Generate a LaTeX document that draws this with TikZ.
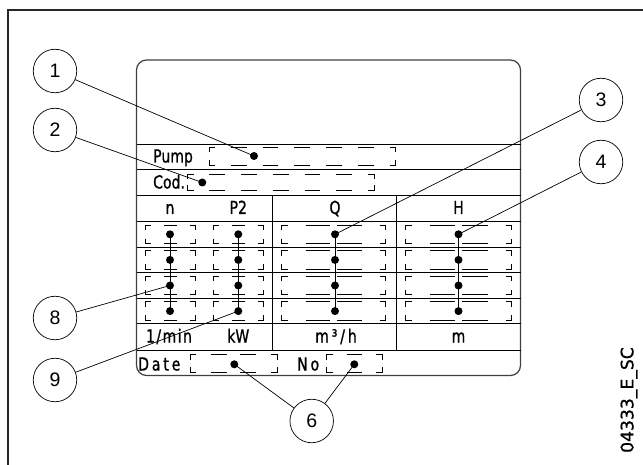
\documentclass[tikz,border=0pt]{standalone}
\usepackage{fontspec}
\setmainfont{Liberation Sans}
\newfontfamily\techfont[FakeStretch=0.78,FakeBold=1]{DejaVu Sans}
\newfontfamily\techwide[FakeStretch=0.78,FakeBold=1,LetterSpace=16]{DejaVu Sans}
\newfontfamily\techsemi[FakeStretch=0.78,FakeBold=1,LetterSpace=8]{DejaVu Sans}
\newfontfamily\codefont[FakeBold=1]{DejaVu Sans}
\tikzset{
  frame/.style={line width=2pt, black!85},
  panel/.style={line width=1.2pt, black!75, rounded corners=10pt},
  rule/.style={line width=0.9pt},
  leader/.style={line width=0.7pt},
  stem/.style={line width=1pt},
  callout/.style={circle, draw, line width=0.7pt, minimum size=43.5pt, inner sep=0pt, font=\fontsize{19.5}{19.5}\selectfont},
  dot/.style={circle, fill, inner sep=0pt, minimum size=8pt},
  lbl/.style={font=\techfont\fontsize{18}{18}\selectfont, inner sep=0pt},
  lblw/.style={font=\techwide\fontsize{18}{18}\selectfont, inner sep=0pt},
  lbls/.style={font=\techsemi\fontsize{18}{18}\selectfont, inner sep=0pt},
  dbx/.style={line width=0.8pt},
}
% #1 x1, #2 y1, #3 x2, #4 y2, #5 dashes, #6 side gap, #7 inner gap
\newcommand\fieldbox[7]{%
  \draw[dbx] (#1,#2+5) -- (#1,#2) -- (#1+6,#2);
  \draw[dbx] (#3-6,#2) -- (#3,#2) -- (#3,#2+5);
  \draw[dbx] (#1,#4-5) -- (#1,#4) -- (#1+6,#4);
  \draw[dbx] (#3-6,#4) -- (#3,#4) -- (#3,#4-5);
  \pgfmathsetmacro\fbD{(#3-#1-12-2*#6-(#5-1)*#7)/#5}
  \foreach \i in {1,...,#5}{
    \pgfmathsetmacro\fbX{#1+6+#6+(\i-1)*(\fbD+#7)}
    \draw[dbx] (\fbX,#2) -- ++(\fbD,0);
    \draw[dbx] (\fbX,#4) -- ++(\fbD,0);
  }
}
\begin{document}
\begin{tikzpicture}[x=1pt,y=-1pt]
\useasboundingbox (0,0) rectangle (643,465);
% outer frame
\draw[frame] (7.5,465) -- (7.5,10.5) -- (643,10.5);
% panel
\draw[panel] (136.5,60) rectangle (520.5,375.5);
\foreach \yy in {144,169,195,221.5,247.1,272.7,298.3,323.9,350}
  \draw[rule] (136.5,\yy) -- (520.5,\yy);
\draw[rule] (272.7,195) -- (272.7,350);
\draw[rule] (396.7,195) -- (396.7,350);
% top fields
\node[lbl, anchor=base west] (pump) at (153,162.5) {Pump};
\node[lbl, anchor=base west] (cod) at (153,188.5) {Cod.};
\fieldbox{209}{147.5}{395.5}{165}{5}{15.9}{15.9}
\fieldbox{187.5}{174}{374}{190.5}{5}{15.9}{15.9}
\node[dot] (pumpdot) at (254,156) {};
\node[dot] (coddot) at (202.3,182.5) {};
% headers
\node[lbl, anchor=base] (hn) at (170,214) {n};
\node[lbl, anchor=base] (hp) at (238.3,214) {P2};
\node[lbl, anchor=base] (hq) at (335,214) {Q};
\node[lbl, anchor=base] (hh) at (458.5,214) {H};
% units
\node[lbls, anchor=base] (un) at (169,342.5) {1/min};
\node[lbl, anchor=base] (up) at (238.3,342.5) {kW};
\node[lblw, anchor=base] (uq) at (336,342.5) {m³/h};
\node[lbl, anchor=base] (uh) at (458.5,342.5) {m};
% data cells
\foreach \k in {1,2,3,4}{
  \pgfmathsetmacro\tp{221.5+25.6*(\k-1)}
  \fieldbox{145}{\tp+3.5}{195.5}{\tp+22.1}{1}{12.8}{12.8}
  \fieldbox{213}{\tp+3.5}{263.5}{\tp+22.1}{1}{12.8}{12.8}
  \fieldbox{281.5}{\tp+3.5}{385.5}{\tp+22.1}{2}{18}{7}
  \fieldbox{405.5}{\tp+3.5}{511.5}{\tp+22.1}{2}{18}{7}
  \node[dot] (n\k) at (170,\tp+12.8) {};
  \node[dot] (p\k) at (238.3,\tp+12.8) {};
  \node[dot] (q\k) at (335,\tp+12.8) {};
  \node[dot] (h\k) at (458.5,\tp+12.8) {};
}
\draw[stem] (n1.center) -- (n4.center);
\draw[stem] (p1.center) -- (p4.center);
\draw[stem] (q1.center) -- (q4.center);
\draw[stem] (h1.center) -- (h4.center);
% date row
\node[lblw, anchor=base west] (date) at (138,370.5) {Date};
\node[lblw, anchor=base west] (no) at (297,370.5) {No};
\fieldbox{190}{354.5}{277}{372}{2}{15}{13}
\fieldbox{326.7}{354.5}{382.3}{372}{1}{14.5}{14.5}
\node[dot] (datedot) at (234.3,364.3) {};
\node[dot] (nodot) at (354.3,364.3) {};
% callouts
\node[callout] (c1) at (55,71) {1};
\node[callout] (c2) at (55,130) {2};
\node[callout] (c3) at (601,100) {3};
\node[callout] (c4) at (601,162) {4};
\node[callout] (c8) at (55,318) {8};
\node[callout] (c9) at (55,380) {9};
\node[callout] (c6) at (311.7,421) {6};
\draw[leader] (c1) -- (pumpdot.center);
\draw[leader] (c2) -- (coddot.center);
\draw[leader] (c3) -- (q1.center);
\draw[leader] (c4) -- (h1.center);
\draw[leader] (c8) -- (n3.center);
\draw[leader] (c9) -- (p4.center);
\draw[leader] (c6) -- (datedot.center);
\draw[leader] (c6) -- (nodot.center);
% code
\node[rotate=90, inner sep=0pt, font=\codefont\fontsize{17.2}{17.2}\selectfont] (code) at (629,400) {04333\_E\_SC};
\end{tikzpicture}
\end{document}
